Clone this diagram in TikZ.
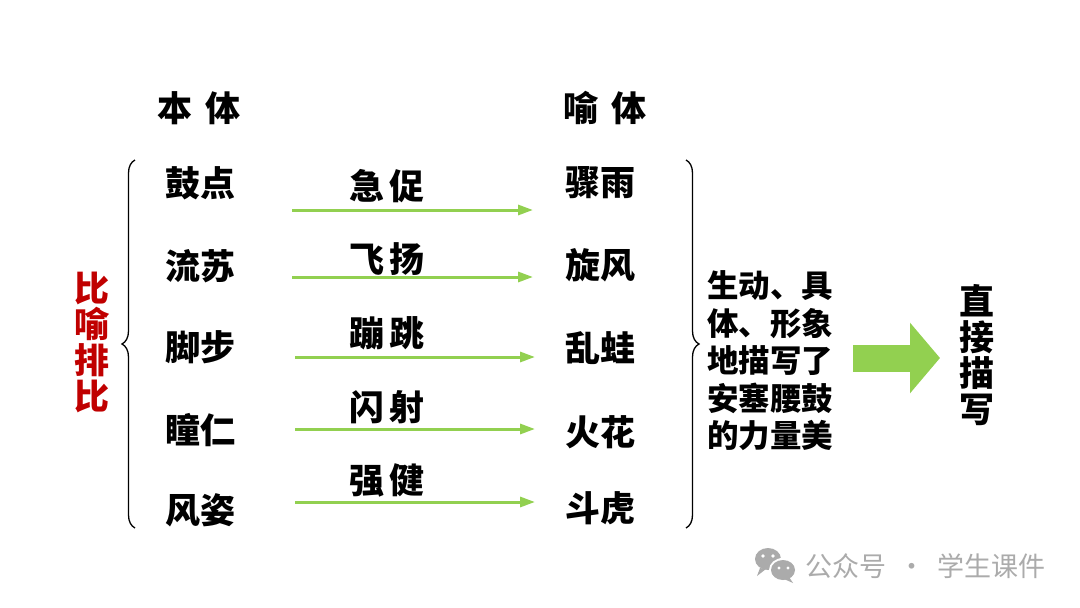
\documentclass[tikz,border=0pt]{standalone}
\usepackage{fontspec}
\newfontfamily\cjk{Noto Sans CJK SC}
\usetikzlibrary{arrows.meta,decorations.pathreplacing}

\definecolor{leafgreen}{HTML}{92D050}
\definecolor{darkred}{HTML}{C00000}
\definecolor{markgray}{HTML}{ABABAB}

\tikzset{
    word/.style={font=\cjk\bfseries\fontsize{35}{35}\selectfont, inner sep=0pt},
    headword/.style={word},
    verbword/.style={word},
    sidetext/.style={font=\cjk\bfseries\fontsize{31.5}{37.5}\selectfont, inner sep=0pt, align=left},
    vertext/.style={font=\cjk\bfseries\fontsize{35}{36}\selectfont, inner sep=0pt, align=center},
    thinarrow/.style={leafgreen, line width=3pt, -{Triangle[length=15pt,width=10pt]}},
    bigarrow/.style={leafgreen, line width=27pt, -{Triangle[length=30pt,width=69pt]}},
    bracebar/.style={decorate, decoration={brace, amplitude=13pt}, line width=1.3pt}
}

\begin{document}
\begin{tikzpicture}[x=1pt, y=-1pt]

\useasboundingbox[fill=white] (0,0) rectangle (1080,608);

% ========== 表头 ==========
\node[headword] (hb) at (199,108) {本\hspace{0.4em}体};
\node[headword] (hy) at (605,108) {喻\hspace{0.4em}体};

% ========== 本体 ==========
\node[word] (b1) at (200,183) {鼓点};
\node[word] (b2) at (200,266) {流苏};
\node[word] (b3) at (200,347) {脚步};
\node[word] (b4) at (200,430) {瞳仁};
\node[word] (b5) at (200,510) {风姿};

% ========== 喻体 ==========
\node[word] (y1) at (600,183) {骤雨};
\node[word] (y2) at (600,265) {旋风};
\node[word] (y3) at (600,348) {乱蛙};
\node[word] (y4) at (600,432) {火花};
\node[word] (y5) at (600,508) {斗虎};

% ========== 相似点 ==========
\node[verbword] (v1) at (387,186) {急\hspace{0.15em}促};
\node[verbword] (v2) at (387,259) {飞\hspace{0.15em}扬};
\node[verbword] (v3) at (387,333) {蹦\hspace{0.15em}跳};
\node[verbword] (v4) at (387,407) {闪\hspace{0.15em}射};
\node[verbword] (v5) at (387,480) {强\hspace{0.15em}健};

% 箭头端点
\coordinate (s1) at (292,210); \coordinate (e1) at (533,210);
\coordinate (s2) at (292,277); \coordinate (e2) at (533,277);
\coordinate (s3) at (295,357); \coordinate (e3) at (535,357);
\coordinate (s4) at (295,429); \coordinate (e4) at (535,429);
\coordinate (s5) at (295,502); \coordinate (e5) at (535,502);

\draw[thinarrow] (s1) -- (e1);
\draw[thinarrow] (s2) -- (e2);
\draw[thinarrow] (s3) -- (e3);
\draw[thinarrow] (s4) -- (e4);
\draw[thinarrow] (s5) -- (e5);

% ========== 大括号 ==========
\coordinate (lb) at (135,528); \coordinate (lt) at (135,160);
\coordinate (rt) at (686,160); \coordinate (rb) at (686,528);
\draw[bracebar] (lb) -- (lt);
\draw[bracebar] (rt) -- (rb);

% 左侧：修辞
\node[vertext, text=darkred] (rhet) at (92,342) {比\\喻\\排\\比};

% 右侧：作用
\node[sidetext] (desc) at (770,361) {生动、具\\体、形象\\地描写了\\安塞腰鼓\\的力量美};

% 大箭头
\coordinate (ga) at (853,358);
\coordinate (gb) at (940,358);
\draw[bigarrow] (ga) -- (gb);

\node[vertext] (direct) at (977,355) {直\\接\\描\\写};

% ========== 水印 ==========
\fill[markgray] (768,559) ellipse (13pt and 11pt);
\fill[markgray] (760,568) -- (757,576) -- (766,569) -- cycle;
\fill[white] (783,570) ellipse (14pt and 12pt);
\fill[markgray] (783,570) ellipse (12pt and 10pt);
\fill[markgray] (789,577) -- (793,583) -- (784,579) -- cycle;
\fill[white] (763,556) circle (1.8pt) (773,556) circle (1.8pt);
\fill[white] (779,568) circle (1.6pt) (788,568) circle (1.6pt);
\node[font=\cjk\fontsize{27}{27}\selectfont, text=markgray, inner sep=0pt, anchor=west] (mark) at (805,566) {公众号\hspace{0.45em}·\hspace{0.45em}学生课件};

\end{tikzpicture}
\end{document}
